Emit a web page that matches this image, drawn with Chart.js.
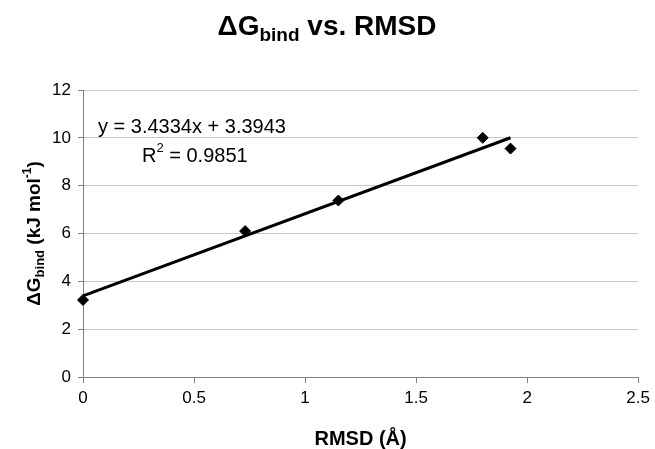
<!DOCTYPE html>
<html><head><meta charset="utf-8">
<script src="https://cdn.jsdelivr.net/npm/chart.js@4/dist/chart.umd.min.js"></script>
<style>html,body{margin:0;padding:0;background:#fff}#wrap{width:655px;height:449px;position:relative}</style>
</head><body><div id="wrap"><canvas id="c" width="655" height="449"></canvas></div>
<script>
// ---- data ----
const rmsd   = [0, 0.73, 1.15, 1.80, 1.925];
const dGbind = [3.22, 6.1, 7.38, 10.0, 9.55];
const xTickValues = [0, 0.5, 1, 1.5, 2, 2.5];
const yTickValues = [0, 2, 4, 6, 8, 10, 12];
const trendSlope = 3.4334;
const trendIntercept = 3.3943;
const trendR2 = '0.9851';

const FONT = "'Liberation Sans', Arial, sans-serif";

const xMin = Math.min(...rmsd), xMax = Math.max(...rmsd);
const trendPoints = [
  {x: xMin, y: trendSlope * xMin + trendIntercept},
  {x: xMax, y: trendSlope * xMax + trendIntercept}
];
const scatterPoints = rmsd.map((x, i) => ({x, y: dGbind[i]}));

function drawRich(ctx, parts, x, y, align) {
  let total = 0;
  parts.forEach(p => {
    ctx.font = (p.bold ? 'bold ' : '') + p.size + 'px ' + FONT;
    p.w = ctx.measureText(p.t).width;
    total += p.w;
  });
  let cx = align === 'center' ? x - total / 2 : x;
  parts.forEach(p => {
    ctx.font = (p.bold ? 'bold ' : '') + p.size + 'px ' + FONT;
    ctx.fillText(p.t, cx, y + (p.dy || 0));
    cx += p.w;
  });
}

const textPlugin = {
  id: 'texts',
  afterDraw(chart) {
    const ctx = chart.ctx;
    const ca = chart.chartArea;
    ctx.save();
    ctx.fillStyle = '#000';
    ctx.textAlign = 'left';
    ctx.textBaseline = 'alphabetic';
    // title
    drawRich(ctx, [
      {t: '\u0394G', size: 28, bold: true},
      {t: 'bind', size: 19, bold: true, dy: 6},
      {t: ' vs. RMSD', size: 28, bold: true}
    ], 327, 35, 'center');
    // x axis title
    drawRich(ctx, [{t: 'RMSD (\u00c5)', size: 20, bold: true}], (ca.left + ca.right) / 2, 445, 'center');
    // y axis title
    ctx.save();
    ctx.translate(40, (ca.top + ca.bottom) / 2);
    ctx.rotate(-Math.PI / 2);
    drawRich(ctx, [
      {t: '\u0394G', size: 19, bold: true},
      {t: 'bind', size: 13, bold: true, dy: 4},
      {t: ' (kJ mol', size: 19, bold: true},
      {t: '-1', size: 12, bold: true, dy: -9},
      {t: ')', size: 19, bold: true}
    ], 0, 0, 'center');
    ctx.restore();
    // trendline equation
    drawRich(ctx, [{t: 'y = ' + trendSlope + 'x + ' + trendIntercept, size: 20}], 98, 133, 'left');
    drawRich(ctx, [
      {t: 'R', size: 20},
      {t: '2', size: 13, dy: -10},
      {t: ' = ' + trendR2, size: 20}
    ], 142, 162, 'left');
    ctx.restore();
  }
};

new Chart(document.getElementById('c'), {
  type: 'scatter',
  data: {
    datasets: [
      {
        type: 'line',
        data: trendPoints,
        borderColor: '#000',
        borderWidth: 3,
        pointRadius: 0,
        fill: false,
        clip: false,
        order: 2
      },
      {
        data: scatterPoints,
        pointStyle: 'rectRot',
        pointRadius: 5.5,
        backgroundColor: '#000',
        borderColor: '#000',
        borderWidth: 1,
        clip: false,
        order: 1
      }
    ]
  },
  options: {
    responsive: false,
    devicePixelRatio: 1,
    animation: false,
    layout: {padding: {top: 90, right: 15, left: 0, bottom: 0}},
    plugins: {legend: {display: false}, tooltip: {enabled: false}, title: {display: false}},
    scales: {
      x: {
        type: 'linear',
        min: 0, max: 2.5,
        afterBuildTicks: s => { s.ticks = xTickValues.map(v => ({value: v})); },
        ticks: {color: '#000', font: {family: FONT, size: 17}, padding: 5, maxRotation: 0,
                callback: v => String(v)},
        grid: {drawOnChartArea: false, drawTicks: true, tickLength: 6, tickColor: '#808080'},
        border: {color: '#808080', width: 1},
        afterFit: s => { s.height = 72; }
      },
      y: {
        type: 'linear',
        min: 0, max: 12,
        afterBuildTicks: s => { s.ticks = yTickValues.map(v => ({value: v})); },
        ticks: {color: '#000', font: {family: FONT, size: 17}, padding: 7,
                callback: v => String(v)},
        grid: {color: '#c8c8c8', tickLength: 5, tickColor: '#808080', lineWidth: 1},
        border: {color: '#808080', width: 1},
        afterFit: s => { s.width = 83; }
      }
    }
  },
  plugins: [textPlugin]
});
</script>
</body></html>
